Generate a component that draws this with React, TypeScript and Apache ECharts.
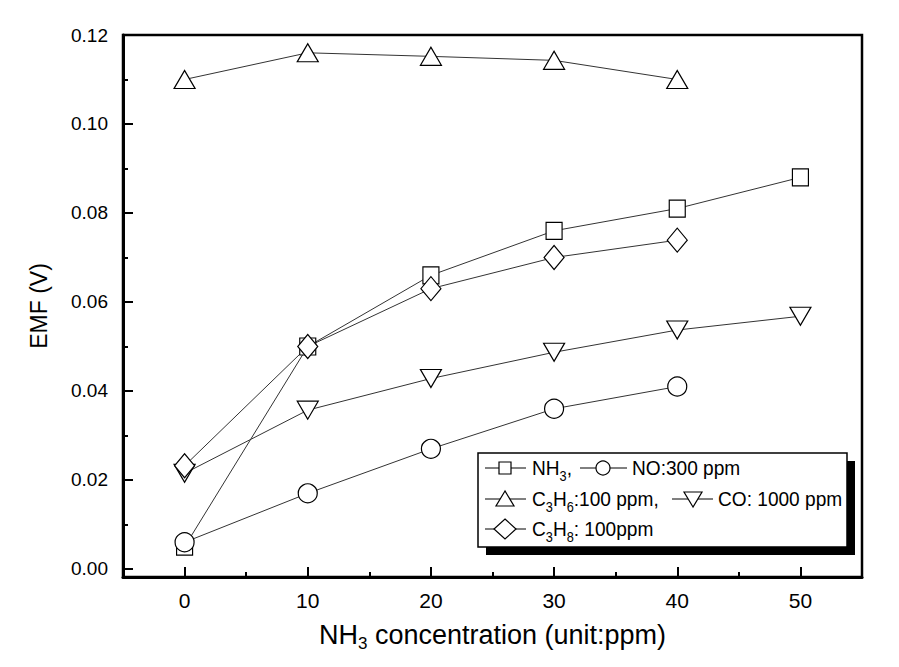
import React, { useEffect, useRef } from 'react';
import * as echarts from 'echarts';

const xValues = [0, 10, 20, 30, 40, 50];
const nh3 = [0.005, 0.05, 0.066, 0.076, 0.081, 0.088];
const no = [0.006, 0.017, 0.027, 0.036, 0.041];
const c3h6 = [0.11, 0.116, 0.1152, 0.1143, 0.11];
const co = [0.0215, 0.0357, 0.0428, 0.0487, 0.0537, 0.0568];
const c3h8 = [0.0232, 0.05, 0.063, 0.07, 0.0739];

const xMajor = [0, 10, 20, 30, 40, 50];
const xMinor = [5, 15, 25, 35, 45];
const yMajor = [0, 0.02, 0.04, 0.06, 0.08, 0.1, 0.12];
const yMinor = [0.01, 0.03, 0.05, 0.07, 0.09, 0.11];

const FONT = '"Liberation Sans", Arial, sans-serif';

const pairs = (ys: number[]) => ys.map((y, i) => [xValues[i], y]);

const GRID = { left: 123, top: 35, right: 37, bottom: 90 };

function lineSeries(name: string, data: number[], symbol: string, size: any, rotate = 0) {
  return {
    name,
    type: 'line',
    xAxisIndex: 0,
    yAxisIndex: 0,
    data: pairs(data),
    symbol,
    symbolSize: size,
    symbolRotate: rotate,
    showAllSymbol: true,
    lineStyle: { color: '#333', width: 1 },
    itemStyle: { color: '#fff', borderColor: '#000', borderWidth: 1.2 },
    emphasis: { disabled: true },
  };
}

export default function App() {
  const ref = useRef<HTMLDivElement>(null);
  useEffect(() => {
    const chart = echarts.init(ref.current!, null, { renderer: 'svg' });
    const tickStyle = { color: '#000', width: 2 };
    const lgX = 478, lgY = 453, lgW = 369, lgH = 94;
    const txt = (x: number, y: number, s: string) => ({
      type: 'text',
      x,
      y,
      scaleX: 0.91,
      style: {
        text: s,
        fontFamily: FONT,
        fontSize: 21,
        fill: '#000',
        verticalAlign: 'middle',
        rich: { s: { fontSize: 14, fontFamily: FONT, padding: [16, 0, 0, 0] } },
      },
    });
    const seg = (x1: number, x2: number, y: number) => ({
      type: 'line',
      shape: { x1, y1: y, x2, y2: y },
      style: { stroke: '#000', lineWidth: 1 },
    });
    const mk = { fill: '#fff', stroke: '#000', lineWidth: 1.2 };
    const r1 = 468, r2 = 499, r3 = 529;
    const option: any = {
      animation: false,
      backgroundColor: '#fff',
      grid: [
        { ...GRID, show: true, borderColor: '#000', borderWidth: 2.5, backgroundColor: 'transparent' },
        { ...GRID, show: false },
      ],
      xAxis: [
        {
          type: 'value', gridIndex: 0, min: -5, max: 55, position: 'bottom',
          axisLine: { show: true, onZero: false, lineStyle: { color: '#000', width: 3 } },
          axisTick: { show: true, inside: true, length: 10, customValues: xMajor, lineStyle: tickStyle },
          axisLabel: { customValues: xMajor, fontSize: 21, margin: 13, color: '#000', fontFamily: FONT },
          splitLine: { show: false },
          name: 'NH{s|3} concentration (unit:ppm)',
          nameLocation: 'middle',
          nameGap: 40,
          nameTextStyle: {
            fontSize: 27, color: '#000', fontFamily: FONT,
            rich: { s: { fontSize: 17, fontFamily: FONT, padding: [18, 0, 0, 0] } },
          },
        },
        {
          type: 'value', gridIndex: 1, min: -5, max: 55, position: 'bottom',
          axisLine: { show: false, onZero: false },
          axisTick: { show: true, inside: true, length: 5, customValues: xMinor, lineStyle: tickStyle },
          axisLabel: { show: false },
          splitLine: { show: false },
        },
      ],
      yAxis: [
        {
          type: 'value', gridIndex: 0, min: -0.0018, max: 0.12, position: 'left',
          axisLine: { show: true, onZero: false, lineStyle: { color: '#000', width: 3 } },
          axisTick: { show: true, inside: true, length: 10, customValues: yMajor, lineStyle: tickStyle },
          axisLabel: {
            customValues: yMajor, fontSize: 19, margin: 15, color: '#000', fontFamily: FONT,
            formatter: (v: number) => v.toFixed(2),
          },
          splitLine: { show: false },
          name: 'EMF (V)',
          nameLocation: 'middle',
          nameGap: 73,
          nameRotate: 90,
          nameTextStyle: { fontSize: 23, color: '#000', fontFamily: FONT },
        },
        {
          type: 'value', gridIndex: 1, min: -0.0018, max: 0.12, position: 'left',
          axisLine: { show: false, onZero: false },
          axisTick: { show: true, inside: true, length: 5, customValues: yMinor, lineStyle: tickStyle },
          axisLabel: { show: false },
          splitLine: { show: false },
        },
      ],
      series: [
        lineSeries('NH3', nh3, 'rect', [16, 17]),
        lineSeries('CO: 1000 ppm', co, 'triangle', [21, 18], 180),
        lineSeries('C3H6:100 ppm', c3h6, 'triangle', [21, 18]),
        lineSeries('NO:300 ppm', no, 'circle', 19),
        lineSeries('C3H8: 100ppm', c3h8, 'diamond', [20, 24]),
      ],
      graphic: [
        { type: 'rect', shape: { x: lgX + 8, y: lgY + 8, width: lgW, height: lgH }, style: { fill: '#000' } },
        { type: 'rect', shape: { x: lgX, y: lgY, width: lgW, height: lgH }, style: { fill: '#fff', stroke: '#000', lineWidth: 1.5 } },
        seg(485, 526, r1),
        { type: 'rect', shape: { x: 499, y: r1 - 6, width: 12, height: 12 }, style: mk },
        txt(532, r1, 'NH{s|3},'),
        seg(580, 627, r1),
        { type: 'circle', shape: { cx: 603, cy: r1, r: 7 }, style: mk },
        txt(632, r1, 'NO:300 ppm'),
        seg(485, 526, r2),
        { type: 'polygon', shape: { points: [[505, r2 - 8], [496, r2 + 7], [514, r2 + 7]] }, style: mk },
        txt(532, r2, 'C{s|3}H{s|6}:100 ppm,'),
        seg(672, 713, r2),
        { type: 'polygon', shape: { points: [[693, r2 + 8], [684, r2 - 7], [702, r2 - 7]] }, style: mk },
        txt(718, r2, 'CO: 1000 ppm'),
        seg(485, 526, r3),
        { type: 'polygon', shape: { points: [[505, r3 - 10], [516, r3], [505, r3 + 10], [494, r3]] }, style: mk },
        txt(532, r3, 'C{s|3}H{s|8}: 100ppm'),
      ],
    };
    chart.setOption(option);
    return () => chart.dispose();
  }, []);
  return (
    <div
      ref={ref}
      style={{ position: 'absolute', left: 0, top: 0, width: 899, height: 667, background: '#fff' }}
    />
  );
}
